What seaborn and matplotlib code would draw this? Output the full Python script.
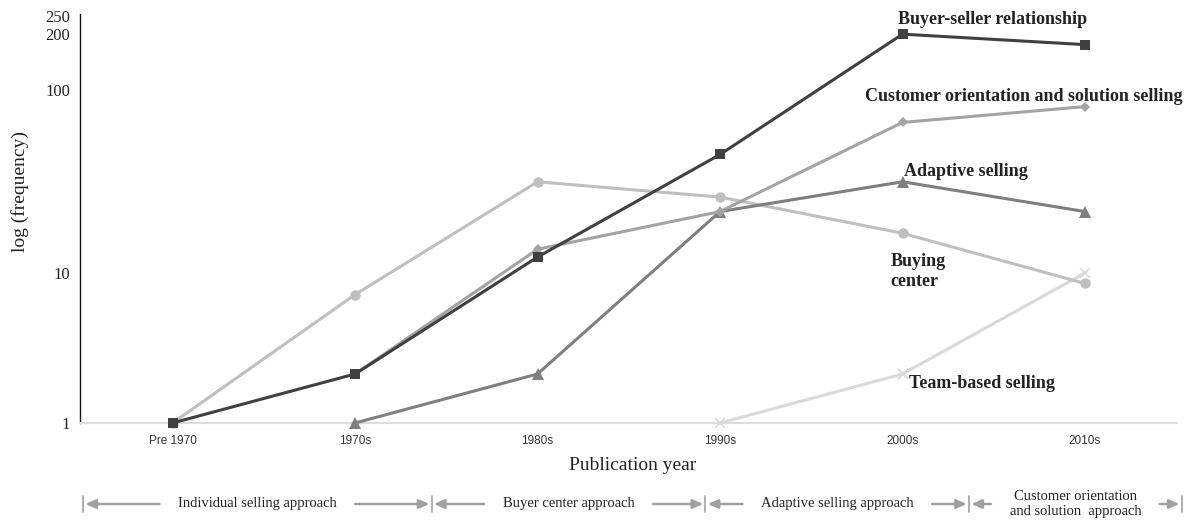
import numpy as np
import pandas as pd
import matplotlib
matplotlib.use("Agg")
import matplotlib.pyplot as plt
import matplotlib.transforms as mtransforms
import seaborn as sns

# ---------------- data ----------------
categories = ["Pre 1970", "1970s", "1980s", "1990s", "2000s", "2010s"]
nan = np.nan
buyer_seller = [1, 2.4, 12.3, 45, 199, 175]
customer_orientation = [nan, 2.4, 13.6, 22, 67, 81.5]
adaptive_selling = [nan, 1, 2.4, 22, 32, 22]
buying_center = [1, 7.5, 32, 26.4, 16.7, 8.7]
team_based = [nan, nan, nan, 1, 2.4, 10]

ytick_values = [1, 10, 100, 200, 250]

era_labels = ["Individual selling approach", "Buyer center approach",
              "Adaptive selling approach", "Customer orientation\nand solution  approach"]
era_edges = [-0.49, 1.42, 2.92, 4.365, 5.53]

# ---------------- style ----------------
sns.set_theme(style="white")
plt.rcParams["font.family"] = ["Liberation Serif", "DejaVu Serif"]

fig = plt.figure(figsize=(11.87, 5.2), dpi=100)
ax = fig.add_axes([80 / 1187, 1 - 423 / 520, (1177 - 80) / 1187, (423 - 14) / 520])

xpos = np.arange(len(categories))
series = [
    ("Team-based selling", team_based, "#d9d9d9", "x", 7, 1.2),
    ("Buying center", buying_center, "#bfbfbf", "o", 7.5, 0),
    ("Adaptive selling", adaptive_selling, "#7f7f7f", "^", 8, 0),
    ("Customer orientation and solution selling", customer_orientation, "#a3a3a3", "D", 5.5, 0),
    ("Buyer-seller relationship", buyer_seller, "#404040", "s", 7.5, 0),
]
for i, (name, vals, col, mk, ms, mew) in enumerate(series):
    df = pd.DataFrame({"x": xpos, "y": vals}).dropna()
    sns.lineplot(data=df, x="x", y="y", ax=ax, color=col, lw=2.2, marker=mk,
                 markersize=ms, markeredgewidth=mew if mk == "x" else 0,
                 markeredgecolor=col, clip_on=False, zorder=3 + i)

f = lambda v: np.log10(np.clip(v, 1e-9, None) + 0.7)
finv = lambda u: 10 ** u - 0.7
ax.set_yscale("function", functions=(f, finv))
ax.set_ylim(1, 255)
ax.set_xlim(-0.507, 5.504)

ax.set_yticks(ytick_values)
ax.set_yticklabels([str(v) for v in ytick_values], fontsize=12, color="#222222")
ax.set_xticks(xpos)
ax.set_xticklabels(categories, fontsize=8.5, color="#333333", family=["Liberation Sans", "DejaVu Sans"])
ax.tick_params(axis="y", length=0, pad=7)
ax.tick_params(axis="x", length=0, pad=9)
ax.set_xlabel("")
ax.set_ylabel("")
ax.yaxis.set_minor_locator(matplotlib.ticker.NullLocator())

for s in ["top", "right"]:
    ax.spines[s].set_visible(False)
ax.spines["left"].set_color("#111111")
ax.spines["left"].set_linewidth(1.0)
ax.spines["bottom"].set_color("#dddddd")
ax.spines["bottom"].set_linewidth(1.6)

fig.text(633 / 1187, 1 - 465 / 520, "Publication year", ha="center", va="center", fontsize=14, color="#222222")
fig.text(20 / 1187, 1 - 192 / 520, "log (frequency)", ha="center", va="center", rotation=90, fontsize=14, color="#222222")

# inline series labels
lab_kw = dict(textcoords="offset pixels", fontsize=13, fontweight="bold", color="#222222",
              ha="left", va="center", annotation_clip=False)
ax.annotate("Buyer-seller relationship", xy=(4, buyer_seller[4]), xytext=(-5, 15), **lab_kw)
ax.annotate("Customer orientation and solution selling", xy=(4, customer_orientation[4]), xytext=(-38, 26), **lab_kw)
ax.annotate("Adaptive selling", xy=(4, adaptive_selling[4]), xytext=(1, 10), **lab_kw)
ax.annotate("Buying\ncenter", xy=(4, buying_center[4]), xytext=(-12, -38), linespacing=1.2, **lab_kw)
ax.annotate("Team-based selling", xy=(4, team_based[4]), xytext=(6, -10), **lab_kw)

# era row below the axis
blend = mtransforms.blended_transform_factory(ax.transData, fig.transFigure)
y_row = 1 - 504 / 520
for e in era_edges:
    ax.plot([e, e], [1 - 496 / 520, 1 - 512 / 520], transform=blend, color="#a0a0a0", lw=1.2, clip_on=False)
arrow_kw = dict(arrowstyle="-|>,head_length=0.5,head_width=0.22", color="#a0a0a0", lw=1.8,
                mutation_scale=12, shrinkA=11, shrinkB=1)
for i, lab in enumerate(era_labels):
    xc = (era_edges[i] + era_edges[i + 1]) / 2
    ax.annotate(lab, xy=(era_edges[i] + 0.005, y_row), xytext=(xc, y_row),
                xycoords=("data", "figure fraction"), textcoords=("data", "figure fraction"),
                ha="center", va="center", fontsize=10.5, color="#222222", linespacing=1.15,
                arrowprops=arrow_kw, annotation_clip=False)
    ax.annotate(lab, xy=(era_edges[i + 1] - 0.005, y_row), xytext=(xc, y_row),
                xycoords=("data", "figure fraction"), textcoords=("data", "figure fraction"),
                ha="center", va="center", fontsize=10.5, color="none", linespacing=1.15,
                arrowprops=arrow_kw, annotation_clip=False)

fig.savefig("out.png", dpi=100)
